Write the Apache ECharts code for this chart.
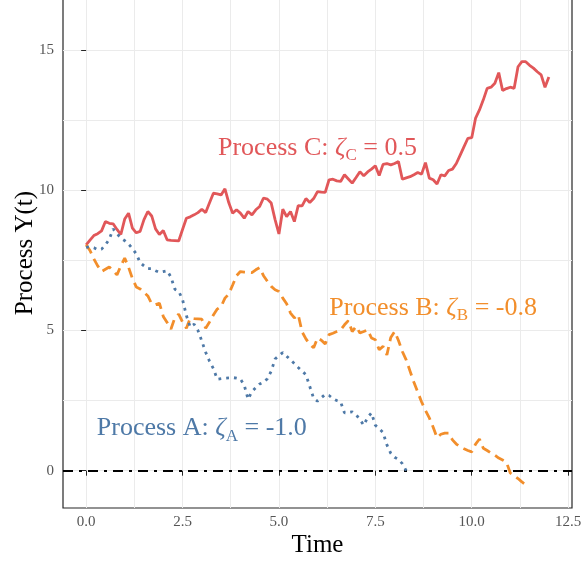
<!DOCTYPE html>
<html>
<head>
<meta charset="utf-8">
<script src="https://cdn.jsdelivr.net/npm/echarts@6/dist/echarts.min.js"></script>
<style>
  html, body { margin: 0; padding: 0; background: #fff; }
  #chart { width: 582px; height: 561px; }
</style>
</head>
<body>
<div id="chart"></div>
<script>
// Sample times shared by the three processes
const time = [
  0.0, 0.1, 0.2, 0.3, 0.4, 0.5, 0.6, 0.7, 0.8, 0.9,
  1.0, 1.1, 1.2, 1.3, 1.4, 1.5, 1.6, 1.7, 1.8, 1.9,
  2.0, 2.1, 2.2, 2.3, 2.4, 2.5, 2.6, 2.7, 2.8, 2.9,
  3.0, 3.1, 3.2, 3.3, 3.4, 3.5, 3.6, 3.7, 3.8, 3.9,
  4.0, 4.1, 4.2, 4.3, 4.4, 4.5, 4.6, 4.7, 4.8, 4.9,
  5.0, 5.1, 5.2, 5.3, 5.4, 5.5, 5.6, 5.7, 5.8, 5.9,
  6.0, 6.1, 6.2, 6.3, 6.4, 6.5, 6.6, 6.7, 6.8, 6.9,
  7.0, 7.1, 7.2, 7.3, 7.4, 7.5, 7.6, 7.7, 7.8, 7.9,
  8.0, 8.1, 8.2, 8.3, 8.4, 8.5, 8.6, 8.7, 8.8, 8.9,
  9.0, 9.1, 9.2, 9.3, 9.4, 9.5, 9.6, 9.7, 9.8, 9.9,
  10.0, 10.1, 10.2, 10.3, 10.4, 10.5, 10.6, 10.7, 10.8, 10.9,
  11.0, 11.1, 11.2, 11.3, 11.4, 11.5, 11.6, 11.7, 11.8, 11.9,
  12.0
];

// Process A (zeta = -1.0), stops once it reaches zero
const processA = [
  7.96, 7.98, 7.95, 7.88, 7.90, 8.05, 8.25, 8.62, 8.45, 8.29,
  8.20, 8.08, 7.92, 7.73, 7.42, 7.30, 7.20, 7.20, 7.13, 7.07,
  7.10, 7.13, 6.90, 6.47, 6.40, 6.10, 5.53, 5.12, 5.22, 5.00,
  4.62, 4.22, 3.90, 3.64, 3.26, 3.28, 3.30, 3.31, 3.32, 3.30,
  3.27, 3.05, 2.55, 2.82, 2.96, 3.09, 3.15, 3.28, 3.55, 3.98,
  4.10, 4.21, 4.08, 3.95, 3.82, 3.68, 3.55, 3.42, 3.00, 2.58,
  2.48, 2.60, 2.72, 2.68, 2.57, 2.50, 2.45, 2.06, 2.08, 2.10,
  2.00, 1.82, 1.62, 1.90, 2.06, 1.62, 1.50, 1.36, 0.92, 0.62,
  0.48, 0.40, 0.25, 0.00
];

// Process B (zeta = -0.8)
const processB = [
  8.05, 7.85, 7.55, 7.30, 7.10, 7.18, 7.26, 7.12, 6.98, 7.30,
  7.58, 7.25, 6.85, 6.55, 6.48, 6.36, 6.23, 5.95, 5.92, 5.97,
  5.50, 5.28, 5.05, 5.45, 5.58, 5.30, 5.08, 5.44, 5.42, 5.41,
  5.40, 5.08, 5.30, 5.55, 5.76, 5.85, 6.15, 6.30, 6.62, 6.95,
  7.10, 7.08, 7.07, 7.06, 7.16, 7.24, 6.95, 6.75, 6.57, 6.45,
  6.39, 6.15, 5.95, 5.62, 5.45, 5.56, 4.95, 4.70, 4.50, 4.38,
  4.73, 4.65, 4.52, 4.85, 4.90, 4.96, 5.02, 5.20, 5.35, 4.96,
  5.14, 4.91, 4.96, 5.02, 4.73, 4.67, 4.31, 4.43, 4.13, 4.75,
  4.96, 4.64, 4.25, 3.95, 3.55, 3.15, 2.80, 2.45, 2.15, 1.88,
  1.55, 1.18, 1.30, 1.34, 1.34, 1.10, 0.95, 0.85, 0.78, 0.72,
  0.67, 0.95, 1.13, 0.80, 0.72, 0.63, 0.55, 0.45, 0.38, 0.30,
  -0.08, -0.18, -0.28, -0.40, -0.50
];

// Process C (zeta = 0.5)
const processC = [
  8.05, 8.22, 8.38, 8.45, 8.55, 8.88, 8.82, 8.80, 8.60, 8.42,
  8.97, 9.18, 8.65, 8.48, 8.53, 8.95, 9.24, 9.08, 8.62, 8.42,
  8.56, 8.23, 8.21, 8.20, 8.19, 8.60, 9.00, 9.05, 9.12, 9.20,
  9.32, 9.20, 9.55, 9.89, 9.87, 9.83, 10.05, 9.55, 9.18, 9.30,
  9.18, 9.00, 9.24, 9.12, 9.30, 9.42, 9.72, 9.68, 9.54, 8.95,
  8.44, 9.32, 9.06, 9.24, 8.88, 9.45, 9.44, 9.70, 9.56, 9.70,
  9.95, 9.93, 9.92, 10.37, 10.39, 10.33, 10.31, 10.55, 10.40, 10.25,
  10.45, 10.66, 10.51, 10.65, 10.75, 10.87, 10.52, 10.92, 10.95, 10.90,
  10.95, 11.02, 10.39, 10.44, 10.48, 10.55, 10.63, 10.57, 10.98, 10.43,
  10.37, 10.22, 10.55, 10.51, 10.70, 10.75, 10.95, 11.25, 11.55, 11.85,
  11.87, 12.57, 12.86, 13.22, 13.63, 13.67, 13.81, 14.19, 13.55, 13.62,
  13.67, 13.63, 14.40, 14.58, 14.58, 14.45, 14.35, 14.22, 14.11, 13.67,
  14.03
];

// Tick labels
const xTicks = [0, 2.5, 5, 7.5, 10, 12.5];
const yTicks = [0, 5, 10, 15];

// Annotation texts
const labelA = { name: 'Process A', sub: 'A', zeta: '-1.0' };
const labelB = { name: 'Process B', sub: 'B', zeta: '-0.8' };
const labelC = { name: 'Process C', sub: 'C', zeta: '0.5' };

const SERIF = '"Liberation Serif", "DejaVu Serif", serif';
const COL_A = '#4e79a7';
const COL_B = '#f28e2b';
const COL_C = '#e15759';
const X_MIN = -0.6, X_MAX = 12.6;
const Y_MIN = -1.33, Y_MAX = 16.85;

function pairs(values) {
  return values.map((v, i) => [time[i], v]);
}

function annotation(info, color, coord) {
  return {
    symbol: 'circle',
    symbolSize: 0,
    silent: true,
    label: {
      show: true,
      position: 'inside',
      formatter: '{m|' + info.name + ': }{z|ζ}{s|' + info.sub + '}{m| = ' + info.zeta + '}',
      rich: {
        m: { fontFamily: SERIF, fontSize: 26, color: color, lineHeight: 32 },
        z: { fontFamily: SERIF, fontSize: 26, color: color, fontStyle: 'italic', lineHeight: 32 },
        s: { fontFamily: SERIF, fontSize: 17, color: color, verticalAlign: 'bottom', lineHeight: 20 }
      }
    },
    data: [{ coord: coord }]
  };
}

const chart = echarts.init(document.getElementById('chart'), null, { renderer: 'canvas' });

chart.setOption({
  animation: false,
  backgroundColor: '#ffffff',
  grid: {
    left: 63, right: 10, top: -2, bottom: 53,
    outerBoundsMode: 'none',
    containLabel: false,
    show: true,
    borderColor: '#262626',
    borderWidth: 1.2
  },
  xAxis: [
    {
      // light grid every 1.25
      type: 'value', position: 'bottom', min: X_MIN, max: X_MAX,
      minInterval: 1.25, maxInterval: 1.25,
      axisLine: { show: false }, axisTick: { show: false }, axisLabel: { show: false },
      splitLine: { show: true, showMinLine: false, showMaxLine: false, lineStyle: { color: '#ebebeb', width: 1 } }
    },
    {
      // labelled ticks
      type: 'value', position: 'bottom', min: X_MIN, max: X_MAX,
      axisLine: { show: false },
      splitLine: { show: false },
      axisTick: { show: true, customValues: xTicks, length: 5, lineStyle: { color: '#262626', width: 1 } },
      axisLabel: {
        customValues: xTicks,
        formatter: v => v.toFixed(1),
        color: '#555555', fontFamily: SERIF, fontSize: 15, margin: 7
      },
      name: 'Time', nameLocation: 'middle', nameGap: 25, nameMoveOverlap: false,
      nameTextStyle: { fontFamily: SERIF, fontSize: 25, color: '#000000' }
    }
  ],
  yAxis: [
    {
      type: 'value', position: 'left', min: Y_MIN, max: Y_MAX,
      minInterval: 2.5, maxInterval: 2.5,
      axisLine: { show: false }, axisTick: { show: false }, axisLabel: { show: false },
      splitLine: { show: true, showMinLine: false, showMaxLine: false, lineStyle: { color: '#ebebeb', width: 1 } }
    },
    {
      type: 'value', position: 'left', min: Y_MIN, max: Y_MAX,
      axisLine: { show: false },
      splitLine: { show: false },
      axisTick: { show: true, customValues: yTicks, length: 5, lineStyle: { color: '#262626', width: 1 } },
      axisLabel: {
        customValues: yTicks,
        formatter: v => String(v),
        color: '#555555', fontFamily: SERIF, fontSize: 15, margin: 9
      },
      name: 'Process Y(t)', nameLocation: 'middle', nameGap: 25, nameMoveOverlap: false,
      nameTextStyle: { fontFamily: SERIF, fontSize: 25, color: '#000000' }
    }
  ],
  series: [
    {
      name: 'Process C', type: 'line', xAxisIndex: 0, yAxisIndex: 0,
      data: pairs(processC), showSymbol: false, symbol: 'none', z: 3,
      lineStyle: { color: COL_C, width: 2.8 },
      markPoint: annotation(labelC, COL_C, [6.0, 11.5]),
      markLine: {
        silent: true, symbol: 'none', label: { show: false },
        lineStyle: { color: '#000000', width: 2, type: [10, 6, 3, 6] },
        data: [{ yAxis: 0 }]
      }
    },
    {
      name: 'Process B', type: 'line', xAxisIndex: 0, yAxisIndex: 0,
      data: pairs(processB), showSymbol: false, symbol: 'none', z: 4,
      lineStyle: { color: COL_B, width: 2.8, type: [10, 6] },
      markPoint: annotation(labelB, COL_B, [9.0, 5.8])
    },
    {
      name: 'Process A', type: 'line', xAxisIndex: 0, yAxisIndex: 0,
      data: pairs(processA), showSymbol: false, symbol: 'none', z: 5,
      lineStyle: { color: COL_A, width: 2.8, type: [2.8, 5], cap: 'butt' },
      markPoint: annotation(labelA, COL_A, [3.0, 1.5])
    }
  ]
});
</script>
</body>
</html>
